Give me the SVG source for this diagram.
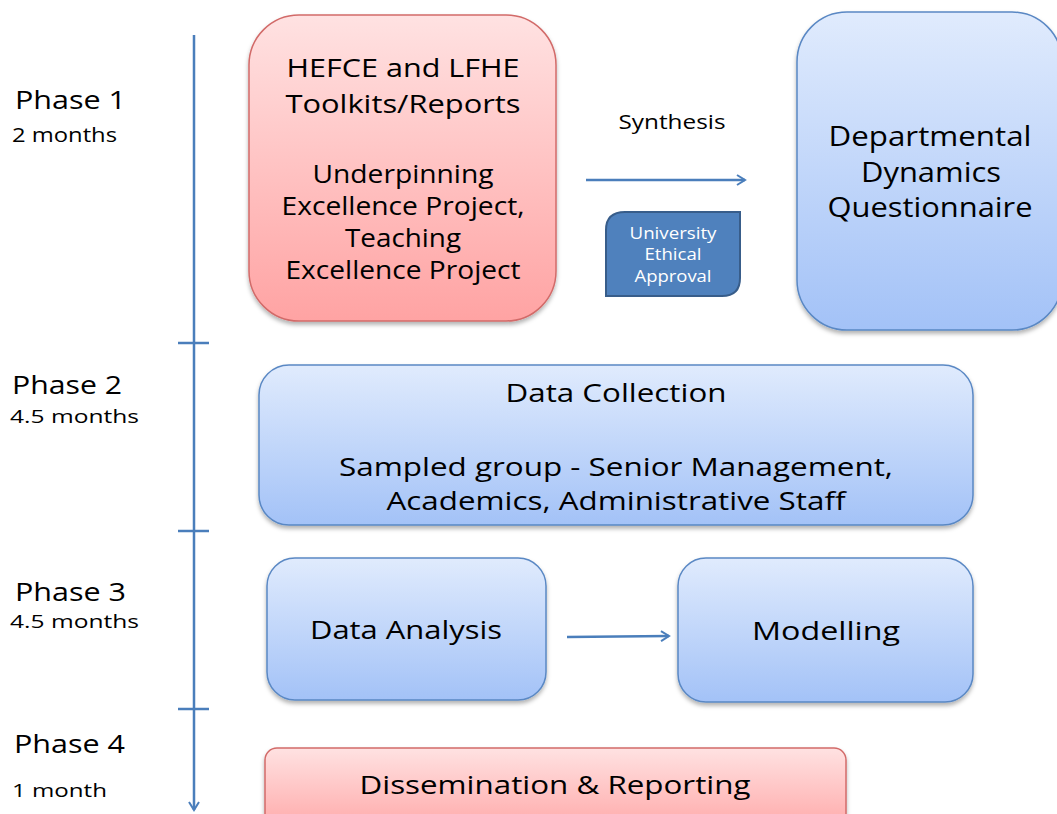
<svg xmlns="http://www.w3.org/2000/svg" width="1057" height="814" viewBox="0 0 1057 814">
<defs>
<linearGradient id="gRed" x1="0" y1="0" x2="0" y2="1"><stop offset="0" stop-color="#FFE2E2"/><stop offset="1" stop-color="#FFA3A3"/></linearGradient>
<linearGradient id="gBlue" x1="0" y1="0" x2="0" y2="1"><stop offset="0" stop-color="#E0EBFD"/><stop offset="1" stop-color="#A3C2F7"/></linearGradient>
<filter id="sh" x="-10%" y="-10%" width="120%" height="130%"><feDropShadow dx="0" dy="3" stdDeviation="2" flood-color="#000" flood-opacity="0.3"/></filter>
<marker id="ah" markerWidth="12" markerHeight="12" viewBox="0 0 12 12" refX="10" refY="6" orient="auto" markerUnits="userSpaceOnUse"><path d="M2,1 L10,6 L2,11" fill="none" stroke="#4A7EBB" stroke-width="2"/></marker>
</defs>
<style>
text{font-family:"Open Sans","Noto Sans",sans-serif;fill:#000}
.t{text-anchor:middle}
.w{fill:#fff}
.red{fill:url(#gRed);stroke:#D26B69;stroke-width:1.5;filter:url(#sh)}
.blue{fill:url(#gBlue);stroke:#5A88C4;stroke-width:1.5;filter:url(#sh)}
.ln{stroke:#4A7EBB;stroke-width:2.5;fill:none}
</style>
<rect width="1057" height="814" fill="#fff"/>
<g id="timeline">
<line class="ln" x1="194" y1="35" x2="194" y2="810" marker-end="url(#ah)"/>
<line class="ln" x1="178" y1="343" x2="209" y2="343"/>
<line class="ln" x1="178" y1="531" x2="209" y2="531"/>
<line class="ln" x1="178" y1="709" x2="209" y2="709"/>
</g>
<g id="phase-labels" lengthAdjust="spacingAndGlyphs">
<text font-size="25" x="15" y="109" textLength="111" lengthAdjust="spacingAndGlyphs">Phase 1</text>
<text font-size="20" x="12" y="142" textLength="105" lengthAdjust="spacingAndGlyphs">2 months</text>
<text font-size="25" x="12" y="394" textLength="110" lengthAdjust="spacingAndGlyphs">Phase 2</text>
<text font-size="19" x="10" y="423" textLength="129" lengthAdjust="spacingAndGlyphs">4.5 months</text>
<text font-size="25" x="15" y="601" textLength="111" lengthAdjust="spacingAndGlyphs">Phase 3</text>
<text font-size="19" x="10" y="628" textLength="129" lengthAdjust="spacingAndGlyphs">4.5 months</text>
<text font-size="25" x="14" y="753" textLength="111" lengthAdjust="spacingAndGlyphs">Phase 4</text>
<text font-size="19" x="12" y="797" textLength="95" lengthAdjust="spacingAndGlyphs">1 month</text>
</g>
<g id="hefce">
<rect class="red" x="249" y="15" width="307" height="306" rx="50"/>
<text class="t" font-size="25" x="403" y="77" textLength="233" lengthAdjust="spacingAndGlyphs">HEFCE and LFHE</text>
<text class="t" font-size="25" x="403" y="113" textLength="235" lengthAdjust="spacingAndGlyphs">Toolkits/Reports</text>
<text class="t" font-size="25" x="403" y="183" textLength="181" lengthAdjust="spacingAndGlyphs">Underpinning</text>
<text class="t" font-size="25" x="403" y="215" textLength="243" lengthAdjust="spacingAndGlyphs">Excellence Project,</text>
<text class="t" font-size="25" x="403" y="247" textLength="116" lengthAdjust="spacingAndGlyphs">Teaching</text>
<text class="t" font-size="25" x="403" y="279" textLength="235" lengthAdjust="spacingAndGlyphs">Excellence Project</text>
</g>
<g id="synthesis-label"><text class="t" font-size="20" x="672" y="129" textLength="107" lengthAdjust="spacingAndGlyphs">Synthesis</text></g>
<g id="ethical">
<path d="M625,212 L740,212 L740,278 Q740,296 722,296 L606,296 L606,230 Q606,212 625,212 Z" fill="#4F81BD" stroke="#385D8A" stroke-width="2"/>
<text class="t w" font-size="16" x="673" y="239" textLength="87" lengthAdjust="spacingAndGlyphs">University</text>
<text class="t w" font-size="16" x="673" y="260" textLength="57" lengthAdjust="spacingAndGlyphs">Ethical</text>
<text class="t w" font-size="16" x="673" y="282" textLength="77" lengthAdjust="spacingAndGlyphs">Approval</text>
</g>
<g id="ddq">
<rect class="blue" x="797" y="12" width="265" height="318" rx="50"/>
<text class="t" font-size="27" x="930" y="146" textLength="203" lengthAdjust="spacingAndGlyphs">Departmental</text>
<text class="t" font-size="27" x="931" y="182" textLength="140" lengthAdjust="spacingAndGlyphs">Dynamics</text>
<text class="t" font-size="27" x="930" y="217" textLength="205" lengthAdjust="spacingAndGlyphs">Questionnaire</text>
</g>
<g id="datacollection">
<rect class="blue" x="259" y="365" width="714" height="160" rx="30"/>
<text class="t" font-size="25" x="616" y="402" textLength="221" lengthAdjust="spacingAndGlyphs">Data Collection</text>
<text class="t" font-size="25" x="616" y="476" textLength="554" lengthAdjust="spacingAndGlyphs">Sampled group - Senior Management,</text>
<text class="t" font-size="25" x="616" y="510" textLength="459" lengthAdjust="spacingAndGlyphs">Academics, Administrative Staff</text>
</g>
<g id="dataanalysis">
<rect class="blue" x="267" y="558" width="279" height="142" rx="28"/>
<text class="t" font-size="25" x="406" y="639" textLength="192" lengthAdjust="spacingAndGlyphs">Data Analysis</text>
</g>
<g id="modelling">
<rect class="blue" x="678" y="558" width="295" height="144" rx="28"/>
<text class="t" font-size="25" x="826" y="640" textLength="148" lengthAdjust="spacingAndGlyphs">Modelling</text>
</g>
<g id="dissemination">
<rect class="red" x="265" y="748" width="581" height="90" rx="12"/>
<text class="t" font-size="25" x="555" y="794" textLength="391" lengthAdjust="spacingAndGlyphs">Dissemination &amp; Reporting</text>
</g>
<g id="connectors">
<line class="ln" x1="586" y1="180" x2="745" y2="180" marker-end="url(#ah)"/>
<line class="ln" x1="567" y1="637" x2="669" y2="636" marker-end="url(#ah)"/>
</g>
</svg>
